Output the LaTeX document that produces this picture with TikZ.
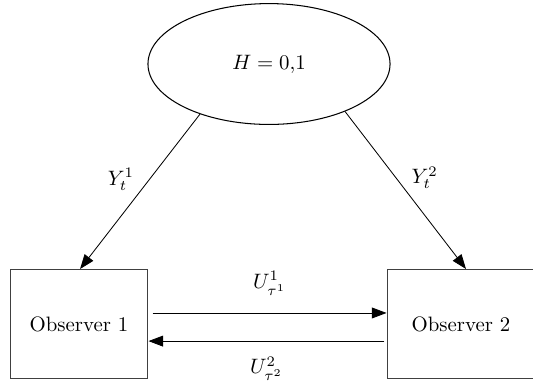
\documentclass[tikz,border=0pt]{standalone}
\usetikzlibrary{arrows.meta,shapes.geometric}
\begin{document}
\begin{tikzpicture}[x=0.48pt,y=-0.48pt,
  tip/.style={-{Triangle[length=7pt,width=5.2pt]}},
  conn/.style={draw=black, line width=0.4pt, tip},
  obsbox/.style={draw=black!75, line width=0.5pt, rectangle, minimum height=52.3pt, inner sep=0pt},
  hyp/.style={draw=black, line width=0.5pt, ellipse, minimum width=116.2pt, minimum height=58pt, inner sep=0pt}]
\useasboundingbox (0,0) rectangle (533,381);
\begin{scope}
\clip (0,0) rectangle (533,381);
\node[hyp] (H) at (269,64) {$H = 0{,}1$};
\node[obsbox, minimum width=66.2pt] (O1) at (79,324) {Observer 1};
\node[obsbox, minimum width=71pt] (O2) at (461,324) {Observer 2};
\end{scope}
\draw[conn] (H.216) -- ([xshift=0.5pt]O1.north)
  node[pos=0.42, left=4pt] (y1) {$Y_t^1$};
\draw[conn] (H.328) -- ([xshift=2.4pt]O2.north)
  node[pos=0.42, right=4pt] (y2) {$Y_t^2$};
\draw[conn] ([xshift=2pt,yshift=5.3pt]O1.east) -- ([yshift=5.3pt]O2.west)
  node[midway, above=5pt] (u1) {$U_{\tau^1}^1$};
\draw[conn] ([xshift=-1pt,yshift=-8.2pt]O2.west) -- ([yshift=-8.2pt]O1.east)
  node[midway, below=4pt] (u2) {$U_{\tau^2}^2$};
\end{tikzpicture}
\end{document}
